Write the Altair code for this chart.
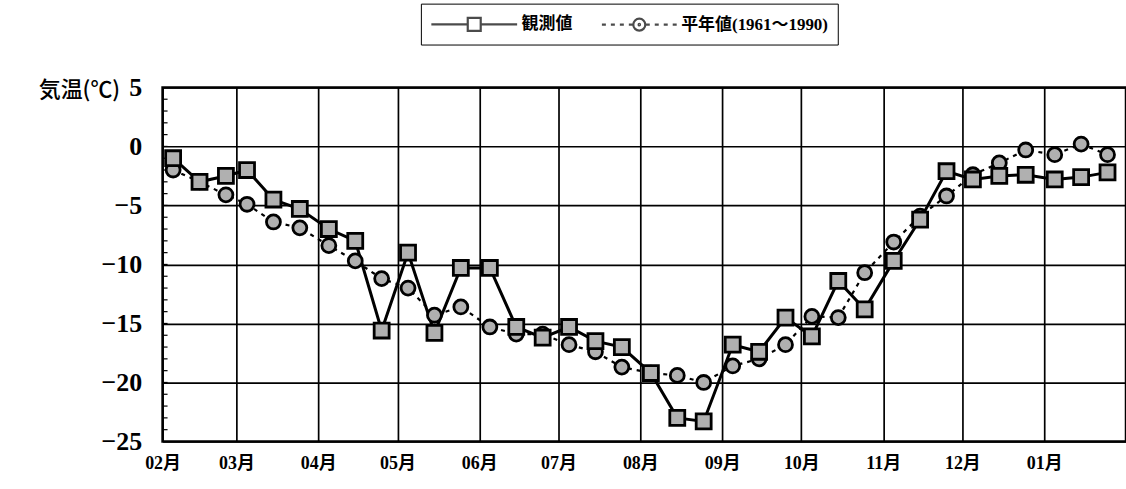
import altair as alt
import pandas as pd

# Ten-day (旬) mean air temperature, plotted on the 5th, 15th and 25th of each month
months = ["1994-02", "1994-03", "1994-04", "1994-05", "1994-06", "1994-07",
          "1994-08", "1994-09", "1994-10", "1994-11", "1994-12", "1995-01"]
days = [5, 15, 25]

observed = [-1.0, -3.0, -2.5,
            -2.0, -4.5, -5.3,
            -7.0, -8.0, -15.6,
            -9.0, -15.8, -10.3,
            -10.3, -15.3, -16.2,
            -15.3, -16.5, -17.0,
            -19.2, -23.0, -23.3,
            -16.8, -17.4, -14.5,
            -16.1, -11.4, -13.8,
            -9.7, -6.2, -2.1,
            -2.8, -2.5, -2.4,
            -2.8, -2.6, -2.2]

normal = [-2.0, -3.0, -4.1,
          -4.9, -6.4, -6.9,
          -8.4, -9.7, -11.2,
          -12.0, -14.3, -13.6,
          -15.3, -15.9, -15.9,
          -16.8, -17.4, -18.7,
          -19.2, -19.4, -20.0,
          -18.6, -18.0, -16.8,
          -14.4, -14.5, -10.7,
          -8.1, -5.9, -4.2,
          -2.4, -1.4, -0.3,
          -0.7, 0.2, -0.7]

series_names = ["観測値", "平年値(1961～1990)"]
y_ticks = [5, 0, -5, -10, -15, -20, -25]
minor_ticks = list(range(-24, 5))

dates = [f"{m}-{d:02d}" for m in months for d in days]
obs_df = pd.DataFrame({"date": dates, "temp": observed, "series": series_names[0]})
norm_df = pd.DataFrame({"date": dates, "temp": normal, "series": series_names[1]})
all_df = pd.concat([obs_df, norm_df], ignore_index=True)
minor_df = pd.DataFrame({"temp": minor_ticks})

month_starts = [alt.DateTime(year=int(m[:4]), month=int(m[5:]), date=1, utc=True) for m in months]
end = alt.DateTime(year=1995, month=2, date=1, utc=True)

BG = "#b0b0b0"
NUM_FONT = "Liberation Serif, Noto Sans CJK JP"

x_enc = alt.X(
    "date:T",
    scale=alt.Scale(type="utc", domain=[month_starts[0], end]),
    axis=alt.Axis(
        title=None, values=month_starts, format="%m月",
        grid=True, gridColor="black", gridWidth=1.7, gridOpacity=1,
        domain=False, ticks=False, labelFlush=False,
        labelFont=NUM_FONT, labelFontSize=18, labelFontWeight="bold",
        labelColor="black", labelPadding=13,
    ),
)
y_enc = alt.Y(
    "temp:Q",
    scale=alt.Scale(domain=[-25, 5], nice=False, zero=False),
    axis=alt.Axis(
        values=y_ticks, title="気温(℃)", titleAngle=0, titleAlign="right",
        titleBaseline="middle", titleX=-43, titleY=2,
        titleFont="Noto Sans CJK JP", titleFontSize=22, titleFontWeight=500,
        titleColor="black",
        grid=True, gridColor="black", gridWidth=1.7, gridOpacity=1,
        domain=False, ticks=False, labelFlush=False,
        labelFont="Liberation Serif", labelFontSize=26, labelFontWeight="bold",
        labelColor="black", labelPadding=21,
    ),
)

minor = alt.Chart(minor_df).mark_rule(color="black", strokeWidth=1.2).encode(
    y=alt.Y("temp:Q"), x=alt.value(0), x2=alt.value(5)
)

norm_line = alt.Chart(norm_df).mark_line(
    color="black", strokeWidth=2.2, strokeDash=[4, 5]
).encode(x=x_enc, y=y_enc)
obs_line = alt.Chart(obs_df).mark_line(color="black", strokeWidth=3).encode(x=x_enc, y=y_enc)

norm_pts = alt.Chart(norm_df).mark_point(
    shape="circle", size=196, filled=True, fill=BG, stroke="black",
    strokeWidth=2.8, opacity=1
).encode(x=x_enc, y=y_enc)
obs_pts = alt.Chart(obs_df).mark_point(
    shape="square", size=225, filled=True, fill=BG, stroke="black",
    strokeWidth=2.8, opacity=1
).encode(x=x_enc, y=y_enc)

# Legend symbols: line with a marker in the middle (units of 10 px)
obs_symbol = "M-1,0H2.65M3.95,0H7.6M2.65,-0.65H3.95V0.65H2.65Z"
norm_symbol = (
    "M0.1,0H0.5M1.0,0H1.4M1.9,0H2.3M2.8,0H3.2"
    "M4.5,0H4.9M5.4,0H5.8M6.3,0H6.7M7.2,0H7.6"
    "M3.25,0A0.6,0.6 0 1,0 4.45,0A0.6,0.6 0 1,0 3.25,0"
    "M3.78,0A0.07,0.07 0 1,0 3.92,0A0.07,0.07 0 1,0 3.78,0"
)

legend_layer = alt.Chart(all_df).transform_filter("false").mark_point(
    filled=False, color="black"
).encode(
    shape=alt.Shape(
        "series:N",
        scale=alt.Scale(domain=series_names, range=[obs_symbol, norm_symbol]),
        legend=alt.Legend(
            title=None, orient="none", legendX=259, legendY=-84,
            direction="horizontal", symbolSize=400, symbolStrokeWidth=2.2,
            symbolStrokeColor="black", labelOffset=69, columnPadding=17,
            labelFont=NUM_FONT, labelFontSize=17, labelFontWeight="bold",
            labelColor="black", padding=9, strokeColor="black",
            fillColor="white", labelLimit=400,
        ),
    )
)

chart = alt.layer(
    minor, norm_line, obs_line, norm_pts, obs_pts, legend_layer
).properties(
    width=966, height=355,
    padding={"left": 163, "top": 87, "right": 0, "bottom": 47},
    autosize=alt.AutoSizeParams(type="none"),
    background="white",
).configure_view(
    fill=BG, stroke="black", strokeWidth=2.5
)

chart.save("out.html", embed_options={"renderer": "svg", "actions": False})
